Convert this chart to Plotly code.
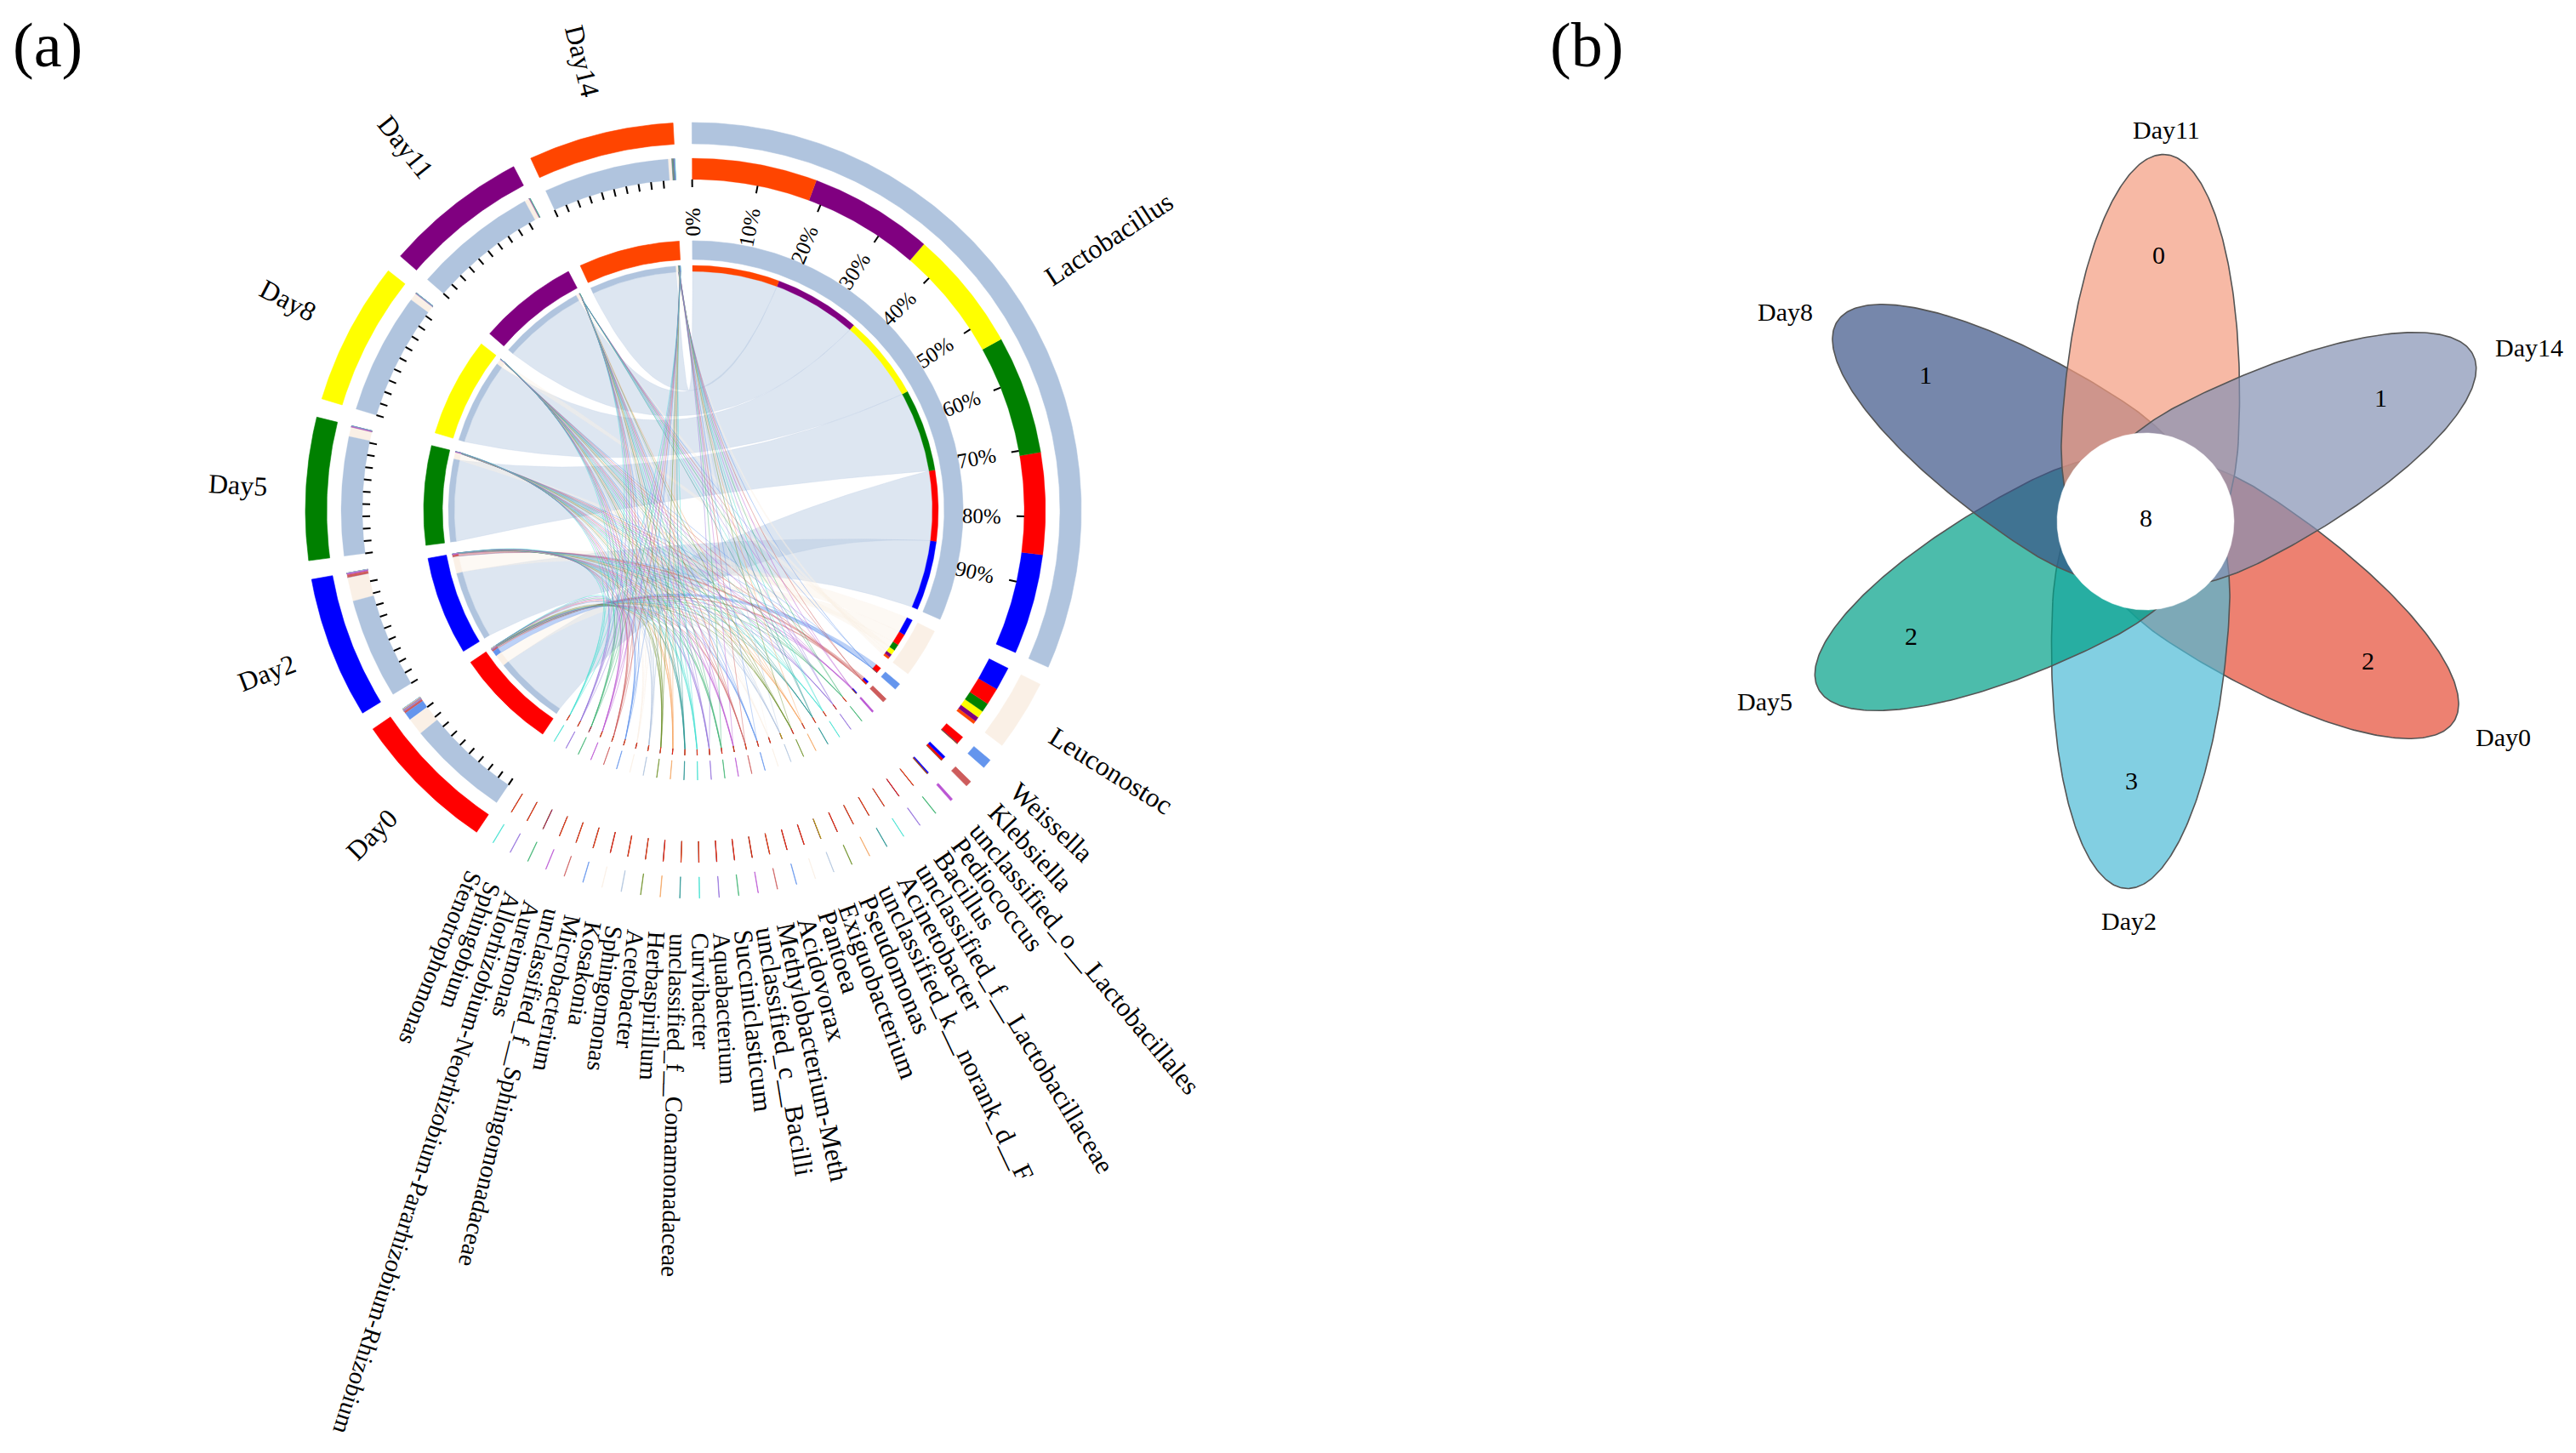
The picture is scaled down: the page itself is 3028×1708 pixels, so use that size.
import numpy as np
import plotly.graph_objects as go

# ---------------- data ----------------
species = ["Lactobacillus","Leuconostoc","Weissella","Klebsiella","unclassified_o__Lactobacillales",
 "Pediococcus","Bacillus","unclassified_f__Lactobacillaceae","Acinetobacter","unclassified_k__norank_d__F",
 "Pseudomonas","Exiguobacterium","Pantoea","Acidovorax","Methylobacterium-Meth","unclassified_c__Bacilli",
 "Succiniclasticum","Aquabacterium","Curvibacter","unclassified_f__Comamonadaceae","Herbaspirillum",
 "Acetobacter","Sphingomonas","Kosakonia","Microbacterium","unclassified_f__Sphingomonadaceae","Aureimonas",
 "Allorhizobium-Neorhizobium-Pararhizobium-Rhizobium","Sphingobium","Stenotrophomonas"]
days = ["Day0","Day2","Day5","Day8","Day11","Day14"]
day0  = [78,13,6,1.5,.3,.10,.14,.08,.05,.05,.12,.04,.14,.14,.05,.14,.12,.14,.12,.04,.14,.05,.12,.12,.08,.05,.06,.02,.08,.08]
day2  = [77,18,.2,2.2,.8,.02,.05,.02,.02,.02,.03,.02,.02,.03,.02,.03,.02,.02,.02,.02,.02,.02,.02,.03,.02,.02,.02,.02,.02,.02]
day5  = [91,7,.15,.15,.25,.03,.03,.03,.03,.03,.03,.04,.03,.03,.03,.04,.03,.03,.03,.03,.03,.03,.03,.03,.03,.03,.03,.03,.03,.03]
day8  = [93,5.5,.12,.1,.1,.03,.03,.03,.03,.03,.03,.09,.03,.03,.03,.03,.03,.03,.03,.03,.03,.03,.03,.03,.03,.03,.03,.03,.03,.03]
day11 = [95,3.5,.1,.1,.1,.03,.03,.03,.03,.03,.03,.03,.03,.03,.03,.03,.03,.03,.03,.03,.03,.03,.03,.03,.03,.03,.03,.18,.03,.03]
day14 = [96,2.5,.1,.1,.15,.16,.08,.08,.14,.12,.05,.02,.05,.05,.14,.04,.05,.06,.12,.14,.07,.12,.12,.08,.14,.12,.14,.05,.14,.16]
matrix = [day0, day2, day5, day8, day11, day14]

palette = ["#B0C4DE","#FAF0E6","#6495ED","#CD5C5C","#BA55D3","#3CB371","#9370DB","#40E0D0","#20908F","#F4A460","#6B8E23"]
day_colors = ["#FF0000","#0000FF","#008000","#FFFF00","#800080","#FF4500"]
pct_labels = ["0%","10%","20%","30%","40%","50%","60%","70%","80%","90%"]

venn_names  = ["Day0","Day2","Day5","Day8","Day11","Day14"]
venn_counts = [2,3,2,1,0,1]
venn_core   = 8
venn_fill   = ["#E64B35","#4DBBD5","#00A087","#3C5488","#F39B7F","#8491B4"]

# ---------------- geometry ----------------
CX, CY = 815.0, 600.0
GAP = 2.8
GAP_THIN = 2.84
START = -0.2
R1 = (431, 456); R2 = (389, 414); RT = (380, 389); I1 = (295, 317); I2 = (281, 288)
FONT = "Liberation Serif"

W = {' ':.25,'_':.5,'-':.333,'%':.833,'A':.722,'B':.667,'C':.667,'D':.722,'E':.611,'H':.722,'K':.722,'L':.611,'M':.889,
     'N':.722,'P':.556,'R':.667,'S':.556,'W':.944,'a':.444,'b':.5,'c':.444,'d':.5,'e':.444,'f':.333,'g':.5,'h':.5,'i':.278,
     'j':.278,'k':.5,'l':.278,'m':.778,'n':.5,'o':.5,'p':.5,'q':.5,'r':.333,'s':.389,'t':.278,'u':.5,'v':.5,'w':.722,
     'x':.5,'y':.5,'z':.444}
def twidth(s, size):
    return sum(W.get(c, .5) for c in s) * size

def pt(theta, r):
    t = np.radians(theta)
    return CX + r*np.sin(t), CY - r*np.cos(t)

def arc(a0, a1, r):
    n = max(3, int(abs(a1-a0)/0.5)+2)
    th = np.linspace(a0, a1, n)
    x, y = pt(th, r)
    return list(x), list(y)

def seg(a0, a1, rr):
    x1, y1 = arc(a0, a1, rr[1])
    x0, y0 = arc(a1, a0, rr[0])
    return x1+x0+[x1[0]], y1+y0+[y1[0]]

n_s, n_d = len(species), len(days)
M = np.array(matrix).T               # species x day
sp_tot, d_tot = M.sum(axis=1), M.sum(axis=0)
gaps_total = GAP*(2+n_d) + GAP_THIN*(n_s-2)
unit = (360 - gaps_total) / (sp_tot.sum()+d_tot.sum())

sp_start = []; a = START
for i, v in enumerate(sp_tot):
    sp_start.append(a); a += v*unit + (GAP if i < 2 else GAP_THIN)
d_start = []
for v in d_tot:
    d_start.append(a); a += v*unit + GAP

sp_pos = {}
for i in range(n_s):
    a = sp_start[i]
    for j in sorted(range(n_d), key=lambda k: -M[i, k]):
        sp_pos[(i, j)] = (a, a+M[i, j]*unit); a += M[i, j]*unit
d_pos = {}
for j in range(n_d):
    a = d_start[j]
    for i in range(n_s):
        d_pos[(i, j)] = (a, a+M[i, j]*unit); a += M[i, j]*unit

def rgba(h, al):
    return f"rgba({int(h[1:3],16)},{int(h[3:5],16)},{int(h[5:7],16)},{al})"

def bez(a0, a1, r, n=50):
    p0 = pt(a0, r); p1 = pt(a1, r)
    d = (a1-a0) % 360
    if d > 180:
        d -= 360
    sep = abs(d)
    c = min(0.5*sep, 25.0)
    cx_, cy_ = pt(a0 + d/2, c)
    t = np.linspace(0, 1, n)
    x = (1-t)**2*p0[0] + 2*t*(1-t)*cx_ + t**2*p1[0]
    y = (1-t)**2*p0[1] + 2*t*(1-t)*cy_ + t**2*p1[1]
    return list(x), list(y)

fig = go.Figure()
def add(x, y, fill, line=None, lw=0.0):
    fig.add_trace(go.Scatter(x=x, y=y, mode="lines", fill="toself", fillcolor=fill,
                             line=dict(color=line or fill, width=lw), hoverinfo="skip", showlegend=False))

# chords
for i in range(n_s):
    col = palette[i % len(palette)]
    for j in range(n_d):
        s0, s1 = sp_pos[(i, j)]; d0, d1 = d_pos[(i, j)]
        xa, ya = arc(s0, s1, I2[0])
        xb, yb = bez(s1, d0, I2[0])
        xc, yc = arc(d0, d1, I2[0])
        xd, yd = bez(d1, s0, I2[0])
        add(xa+xb+xc+xd, ya+yb+yc+yd, rgba(col, .43), rgba(col, .28), 0.8)

# rings
def ring_group(items, lw=0.9):
    for x, y, col in items:
        add(x, y, col, col, lw)

for i in range(n_s):
    col = palette[i % len(palette)]
    a0 = sp_start[i]; a1 = a0+sp_tot[i]*unit
    ring_group([(*seg(a0, a1, R1), col), (*seg(a0, a1, I1), col)], 0.6)
    for j in sorted(range(n_d), key=lambda k: M[i, k]):   # widest stripe painted last
        s0, s1 = sp_pos[(i, j)]
        ring_group([(*seg(s0, s1, R2), day_colors[j]), (*seg(s0, s1, I2), day_colors[j])], 0.3)
for j in range(n_d):
    col = day_colors[j]
    a0 = d_start[j]; a1 = a0+d_tot[j]*unit
    ring_group([(*seg(a0, a1, R1), col), (*seg(a0, a1, I1), col)], 0.6)
    for i in sorted(range(n_s), key=lambda k: M[k, j]):
        d0, d1 = d_pos[(i, j)]
        c = palette[i % len(palette)]
        ring_group([(*seg(d0, d1, R2), c), (*seg(d0, d1, I2), c)], 0.3)

# ticks
tx, ty = [], []
spans = [(sp_start[0], sp_tot[0])] + [(d_start[j], d_tot[j]) for j in range(n_d)]
for st, tot in spans:
    for k in range(len(pct_labels)):
        th = st + tot*unit*k/10
        x0, y0 = pt(th, RT[0]); x1, y1 = pt(th, RT[1])
        tx += [x0, x1, None]; ty += [y0, y1, None]
fig.add_trace(go.Scatter(x=tx, y=ty, mode="lines", line=dict(color="black", width=2), hoverinfo="skip", showlegend=False))

ann = []
def text(x, y, s, size, angle=0):
    ann.append(dict(x=x, y=y, xref="x", yref="y", text=s, showarrow=False, textangle=angle,
                    xanchor="center", yanchor="middle", font=dict(family=FONT, size=size, color="black")))

# percent labels
for k, s in enumerate(pct_labels):
    th = sp_start[0] + sp_tot[0]*unit*k/10
    x, y = pt(th, 339)
    text(x, y, s, 25, th-90)

# sector labels
R_LAB = 497
for i, s in enumerate(species):
    th = sp_start[i] + sp_tot[i]*unit/2
    if i < 2:
        size, phi = 32, th
    elif th > 176:
        size, phi = 29, (180 + (th-180)*0.7)
    else:
        size, phi = 31.5, (180 + (th-180)*0.95)
    x0, y0 = pt(th, R_LAB)
    L = twidth(s, size)/2
    t = np.radians(phi)
    text(x0 + L*np.sin(t), y0 - L*np.cos(t), s, size, phi-90)
for j, s in enumerate(days):
    th = d_start[j] + d_tot[j]*unit/2
    x, y = pt(th, R_LAB + 5 + twidth(s, 32)/2)
    text(x, y, s, 32, th+90)

text(56, 53, "(a)", 74)
text(1865, 53, "(b)", 74)

# ---------------- panel b ----------------
VX, VY = 2522.0, 613.0
AX0 = 123.0
D, A_OUT, A_IN, HW = 100.0, 332.0, 185.0, 104.0
tt = np.linspace(0, 2*np.pi, 361)
for k, name in enumerate(venn_names):
    th = np.radians(AX0 + 60*k)
    u = np.array([np.sin(th), -np.cos(th)]); v = np.array([np.cos(th), np.sin(th)])
    along = D + np.where(np.sin(tt) > 0, A_OUT, A_IN)*np.sin(tt)
    perp = HW*np.cos(tt)
    x = VX + along*u[0] + perp*v[0]; y = VY + along*u[1] + perp*v[1]
    add(list(x), list(y), rgba(venn_fill[k], .7), "rgba(85,85,85,1)", 1.6)
x = VX + HW*np.cos(tt); y = VY + HW*np.sin(tt)
add(list(x), list(y), "#FFFFFF", "#FFFFFF", 0.5)

lab_pos = {"Day0":(2942,866),"Day2":(2502,1082),"Day5":(2074,824),"Day8":(2098,366),"Day11":(2546,152),"Day14":(2973,408)}
cnt_pos = {"Day0":(2783,776),"Day2":(2505,917),"Day5":(2246,747),"Day8":(2263,440),"Day11":(2537,299),"Day14":(2798,467)}
for k, name in enumerate(venn_names):
    text(*lab_pos[name], name, 30)
    text(*cnt_pos[name], str(venn_counts[k]), 30)
text(2522, 608, str(venn_core), 30)

fig.update_layout(
    width=3028, height=1708, autosize=False, margin=dict(l=0, r=0, t=0, b=0),
    paper_bgcolor="white", plot_bgcolor="white", annotations=ann,
    xaxis=dict(range=[0, 3028], visible=False, fixedrange=True, domain=[0, 1]),
    yaxis=dict(range=[1708, 0], visible=False, fixedrange=True, domain=[0, 1]),
)
fig.write_html("out.html", config={"displayModeBar": False},
               post_script="document.body.style.margin='0';document.body.style.overflow='hidden';")
